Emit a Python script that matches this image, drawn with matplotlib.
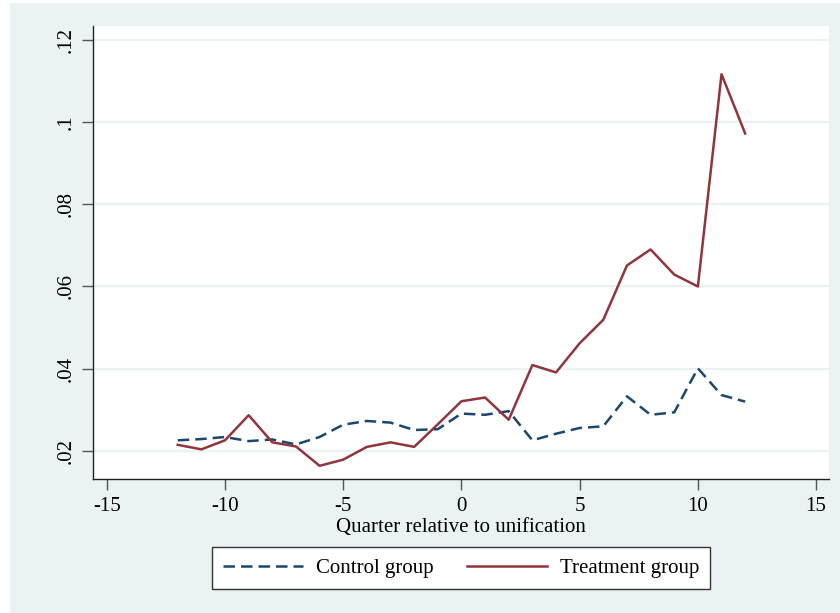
import matplotlib
matplotlib.use("Agg")
from matplotlib import pyplot as plt
from matplotlib.patches import Rectangle
import numpy as np

plt.rcParams['font.family'] = ['Liberation Serif', 'DejaVu Serif']

quarters = np.arange(-12, 13)
control = [0.0226, 0.0229, 0.0234, 0.0224, 0.0228, 0.0216, 0.0234, 0.0264,
           0.0273, 0.0269, 0.0251, 0.0253, 0.0291, 0.0288, 0.0297, 0.0226,
           0.0242, 0.0256, 0.0260, 0.0333, 0.0288, 0.0294, 0.0401, 0.0336,
           0.0320]
treatment = [0.0215, 0.0204, 0.0226, 0.0287, 0.0221, 0.0211, 0.0164, 0.0179,
             0.0210, 0.0221, 0.0210, 0.0265, 0.0321, 0.0330, 0.0276, 0.0409,
             0.0391, 0.0462, 0.0519, 0.0651, 0.0690, 0.0629, 0.0600, 0.1116,
             0.0972]

xticks = [-15, -10, -5, 0, 5, 10, 15]
yticks = [0.02, 0.04, 0.06, 0.08, 0.10, 0.12]
ylabels = ['.02', '.04', '.06', '.08', '.1', '.12']

navy = '#1a476f'
maroon = '#90353b'
bg = '#eaf2f3'

fig = plt.figure(figsize=(8.4, 6.13), dpi=100)
fig.patch.set_facecolor('white')
# graph region background, inset slightly from the image border
fig.patches.append(Rectangle((10 / 840, 0), 1 - 10 / 840, 1 - 3 / 613,
                             transform=fig.transFigure, facecolor=bg,
                             edgecolor='none', zorder=-10))

ax = fig.add_axes([0.1111, 0.2194, 0.8762, 0.7382])
ax.set_zorder(1)
ax.set_facecolor('white')
ax.plot(quarters, control, color=navy, lw=1.8, ls=(0, (4.6, 2.4)),
        label='Control group')
ax.plot(quarters, treatment, color=maroon, lw=1.8, label='Treatment group')

ax.set_xlim(-15.57, 15.56)
ax.set_ylim(0.01331, 0.12333)
ax.set_xticks(xticks)
ax.set_xticklabels([str(t) for t in xticks])
ax.set_yticks(yticks)
ax.set_yticklabels(ylabels, rotation=90, va='center')
ax.yaxis.grid(True, color=bg, lw=1.6)
ax.set_axisbelow(True)
for side in ('top', 'right'):
    ax.spines[side].set_visible(False)
for side in ('left', 'bottom'):
    ax.spines[side].set_color('#222222')
    ax.spines[side].set_linewidth(1.0)
ax.tick_params(direction='out', length=8, width=1, color='#555555',
               labelsize=15, pad=5)
ax.set_xlabel('Quarter relative to unification', fontsize=15, labelpad=2)

leg = fig.legend(loc='center', bbox_to_anchor=(0.549, 0.0734), ncol=2,
                 fontsize=15, frameon=True, fancybox=False, framealpha=1,
                 handlelength=3.85, columnspacing=1.6, handletextpad=0.6,
                 borderpad=0.55, borderaxespad=0)
leg.set_zorder(2)
leg.get_frame().set_edgecolor('#333333')
leg.get_frame().set_linewidth(1.0)

fig.savefig('out.png', dpi=100)
